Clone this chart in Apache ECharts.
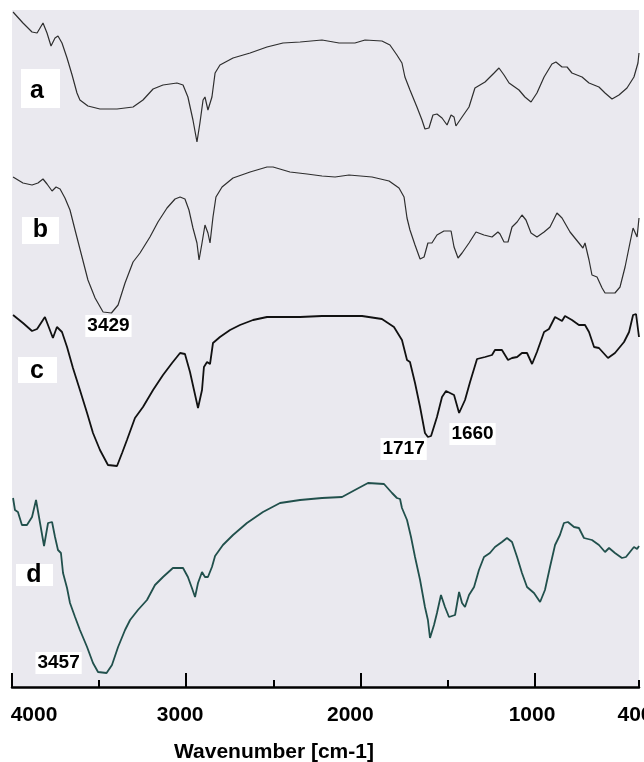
<!DOCTYPE html>
<html>
<head>
<meta charset="utf-8">
<script src="https://cdn.jsdelivr.net/npm/echarts@6/dist/echarts.min.js"></script>
<style>
  html, body { margin: 0; padding: 0; background: #ffffff; }
  #chart { width: 644px; height: 762px; }
</style>
</head>
<body>
<div id="chart"></div>
<script>
// FTIR spectra a-d, stacked (arbitrary transmittance units with vertical offsets)
const wnA = [3994,3937,3885,3856,3822,3799,3776,3753,3736,3713,3684,3655,3627,3610,3564,3495,3397,3305,3248,3190,3133,3053,3018,2990,2961,2938,2921,2903,2892,2875,2852,2834,2806,2731,2633,2536,2444,2346,2220,2122,2031,1973,1876,1830,1790,1761,1744,1715,1675,1646,1629,1606,1583,1560,1531,1502,1479,1462,1451,1416,1376,1342,1284,1232,1204,1175,1146,1089,1055,1020,986,945,900,877,842,813,785,727,687,630,595,555,515,469,429,406,400];
const tA = [675,664,655,654,664,654,641,649,651,644,629,612,594,587,581,578,578,580,587,598,602,604,602,590,567,545,564,587,590,577,590,614,622,629,634,640,644,645,647,644,644,647,646,642,632,624,610,597,580,567,558,559,572,573,569,562,572,570,561,570,580,599,605,614,619,612,604,597,590,585,594,610,623,625,620,620,614,610,604,600,594,588,592,599,610,624,634];

const wnB = [3994,3937,3885,3851,3822,3799,3770,3747,3724,3696,3667,3638,3598,3564,3523,3477,3429,3391,3351,3305,3265,3208,3162,3110,3064,3035,3007,2984,2961,2938,2926,2909,2892,2875,2863,2846,2829,2794,2731,2633,2536,2501,2404,2306,2220,2145,2065,1933,1835,1778,1749,1732,1715,1686,1657,1634,1612,1589,1560,1520,1479,1462,1439,1416,1376,1336,1290,1244,1210,1198,1175,1152,1129,1100,1072,1049,1020,986,945,911,871,842,796,745,722,710,687,670,641,612,595,538,509,480,452,434,411,400];
const tB = [510,504,502,504,508,503,496,500,498,489,477,457,430,407,389,375,374,382,404,425,434,450,465,479,488,490,488,477,459,444,427,444,462,454,444,470,490,500,509,515,520,520,515,513,511,510,512,510,506,499,490,469,457,442,428,430,444,444,452,456,456,440,429,434,444,455,452,450,455,453,445,445,460,465,472,467,454,450,455,460,474,469,455,444,439,444,427,412,410,399,394,394,400,420,444,459,450,469];

const wnC = [3994,3937,3885,3856,3811,3765,3742,3713,3684,3650,3610,3569,3535,3495,3449,3397,3368,3340,3294,3248,3190,3133,3081,3035,3007,2978,2955,2932,2909,2898,2880,2863,2846,2806,2748,2691,2616,2536,2444,2346,2220,1990,1876,1807,1761,1732,1715,1686,1657,1629,1612,1594,1560,1531,1508,1462,1433,1399,1370,1330,1284,1244,1227,1187,1152,1129,1100,1089,1072,1043,1014,986,945,917,882,842,825,785,745,710,687,658,630,578,538,486,457,434,417,400];
const tC = [372,364,356,358,370,349,360,355,340,319,297,274,254,237,222,221,234,247,269,280,297,312,324,334,333,315,297,279,297,320,325,323,344,350,357,362,367,370,370,370,371,371,368,360,347,327,325,304,280,254,250,251,270,290,296,292,274,287,305,328,330,332,337,337,327,329,330,328,334,334,323,335,355,358,370,366,371,367,362,362,355,340,339,329,334,345,355,372,373,350];

const wnD = [3994,3983,3966,3943,3914,3885,3862,3839,3816,3793,3770,3753,3736,3719,3707,3684,3667,3638,3610,3569,3535,3506,3457,3426,3391,3351,3322,3277,3225,3179,3133,3076,3018,2990,2967,2949,2932,2909,2892,2875,2852,2834,2789,2731,2651,2559,2461,2346,2220,2105,2031,1956,1864,1818,1790,1772,1761,1732,1709,1686,1657,1629,1612,1600,1577,1560,1537,1514,1491,1456,1433,1416,1399,1376,1347,1319,1290,1256,1227,1187,1158,1129,1100,1072,1043,1003,968,940,911,882,854,831,808,773,745,716,670,630,595,572,538,498,475,429,411,400];
const tD = [189,177,175,162,162,170,187,164,141,164,165,150,137,134,114,99,84,70,57,40,24,15,14,22,40,57,67,77,87,102,110,119,119,110,99,90,104,115,110,110,120,131,142,152,164,175,184,187,189,190,197,204,203,194,189,188,179,167,150,130,107,80,67,49,62,74,92,80,70,72,95,84,80,92,100,117,130,134,140,145,149,145,130,114,100,94,85,97,120,142,152,164,165,160,159,149,147,142,135,139,134,129,130,140,138,141];

// sample letters and annotated band positions (cm-1)
const sampleNames = ['a', 'b', 'c', 'd'];
const peakWn = [3429, 3457, 1717, 1660];
const peakSample = ['b', 'd', 'c', 'c'];

// axis labelling
const majorTicks = [4000, 3000, 2000, 1000];
const minorTicks = [3500, 2500, 1500, 400];
const tickLabels = [4000, 3000, 2000, 1000, 400];
const axisTitle = 'Wavenumber [cm-1]';

const FONT = '"Liberation Sans", Arial, Helvetica, sans-serif';

const spectra = {
  a: { wn: wnA, t: tA, color: '#2e2e2e', width: 1.2 },
  b: { wn: wnB, t: tB, color: '#2e2e2e', width: 1.2 },
  c: { wn: wnC, t: tC, color: '#111111', width: 1.8 },
  d: { wn: wnD, t: tD, color: '#21504c', width: 1.8 }
};

// annotation label offsets (px) relative to the band anchor
const peakLabelOffset = { 3429: [-3, 13], 3457: [-48, -10], 1717: [-6, 12], 1660: [53, -3] };

function pairs(wn, t) {
  return wn.map((w, i) => [w, t[i]]);
}

function localMin(s, wn) {
  let m = Infinity;
  s.wn.forEach((w, i) => { if (Math.abs(w - wn) <= 150 && s.t[i] < m) m = s.t[i]; });
  return m;
}

const series = sampleNames.map(name => {
  const s = spectra[name];
  const marks = [];
  peakWn.forEach((w, i) => {
    if (peakSample[i] !== name) return;
    marks.push({
      coord: [w, localMin(s, w)],
      value: w,
      label: { offset: peakLabelOffset[w] }
    });
  });
  return {
    name: name,
    type: 'line',
    xAxisIndex: 0,
    yAxisIndex: 0,
    showSymbol: false,
    symbol: 'none',
    smooth: false,
    data: pairs(s.wn, s.t),
    lineStyle: { color: s.color, width: s.width },
    itemStyle: { color: s.color },
    markPoint: marks.length ? {
      symbol: 'circle',
      symbolSize: 1,
      itemStyle: { color: 'rgba(0,0,0,0)' },
      label: {
        show: true,
        position: 'inside',
        formatter: p => String(p.value),
        color: '#000',
        fontFamily: FONT,
        fontWeight: 'bold',
        fontSize: 19,
        backgroundColor: '#ffffff',
        padding: [2, 2, 1, 2]
      },
      data: marks
    } : undefined
  };
});

// sample letter tags (white boxes)
const tagBoxes = {
  a: { rect: [21, 69, 39, 39], text: [37, 91] },
  b: { rect: [22, 217, 37, 27], text: [40.5, 230] },
  c: { rect: [18, 357, 39, 26], text: [37, 371] },
  d: { rect: [16, 564, 37, 22], text: [34, 575] }
};
const graphics = [];
sampleNames.forEach(n => {
  const g = tagBoxes[n];
  graphics.push({
    type: 'rect', z: 100,
    shape: { x: g.rect[0], y: g.rect[1], width: g.rect[2], height: g.rect[3] },
    style: { fill: '#ffffff' }
  });
  graphics.push({
    type: 'text', z: 101, x: g.text[0], y: g.text[1],
    style: {
      text: n, fill: '#000',
      font: 'bold 25px ' + FONT,
      align: 'center', verticalAlign: 'middle',
      textAlign: 'center', textVerticalAlign: 'middle'
    }
  });
});

// per-label horizontal nudges via rich padding
const labelRich = {};
const labelPad = { 4000: [0, 0, 0, 44], 3000: [0, 12, 0, 0], 2000: [0, 20, 0, 0], 1000: [0, 5, 0, 0], 400: [0, 8, 0, 0] };
tickLabels.forEach(v => {
  labelRich['p' + v] = {
    padding: labelPad[v] || [0, 0, 0, 0],
    fontFamily: FONT, fontWeight: 'bold', fontSize: 21, color: '#000'
  };
});

const chart = echarts.init(document.getElementById('chart'), null, { renderer: 'canvas' });
chart.setOption({
  animation: false,
  backgroundColor: '#ffffff',
  title: {
    text: axisTitle,
    left: 174,
    top: 742,
    padding: 0,
    textStyle: { fontFamily: FONT, fontWeight: 'bold', fontSize: 21, color: '#000' }
  },
  grid: {
    left: 12, right: 5, top: 10, bottom: 75,
    outerBoundsMode: 'none',
    containLabel: false,
    show: true, backgroundColor: '#eae9ef', borderWidth: 0
  },
  xAxis: [
    {
      type: 'value', min: 400, max: 4000, inverse: true,
      position: 'bottom',
      axisLine: { show: true, onZero: false, lineStyle: { color: '#000', width: 2.5 } },
      axisTick: { show: true, inside: true, length: 14, customValues: majorTicks, lineStyle: { color: '#000', width: 2 } },
      axisLabel: {
        show: true, customValues: tickLabels, margin: 18,
        fontFamily: FONT, fontWeight: 'bold', fontSize: 21, color: '#000',
        formatter: v => '{p' + v + '|' + v + '}',
        rich: labelRich
      },
      splitLine: { show: false }
    },
    {
      type: 'value', min: 400, max: 4000, inverse: true,
      position: 'bottom',
      axisLine: { show: false, onZero: false },
      axisTick: { show: true, inside: true, length: 7, customValues: minorTicks, lineStyle: { color: '#000', width: 2 } },
      axisLabel: { show: false },
      splitLine: { show: false }
    }
  ],
  yAxis: {
    type: 'value', min: 0, max: 677, show: false,
    splitLine: { show: false }
  },
  visualMap: {
    show: false,
    type: 'piecewise',
    seriesIndex: 2,
    dimension: 0,
    pieces: [
      { min: 2912, max: 2968, color: '#9c3f78' },
      { min: 0, max: 2912, color: '#111111' },
      { min: 2968, max: 5000, color: '#111111' }
    ]
  },
  graphic: graphics,
  series: series
});
</script>
</body>
</html>
